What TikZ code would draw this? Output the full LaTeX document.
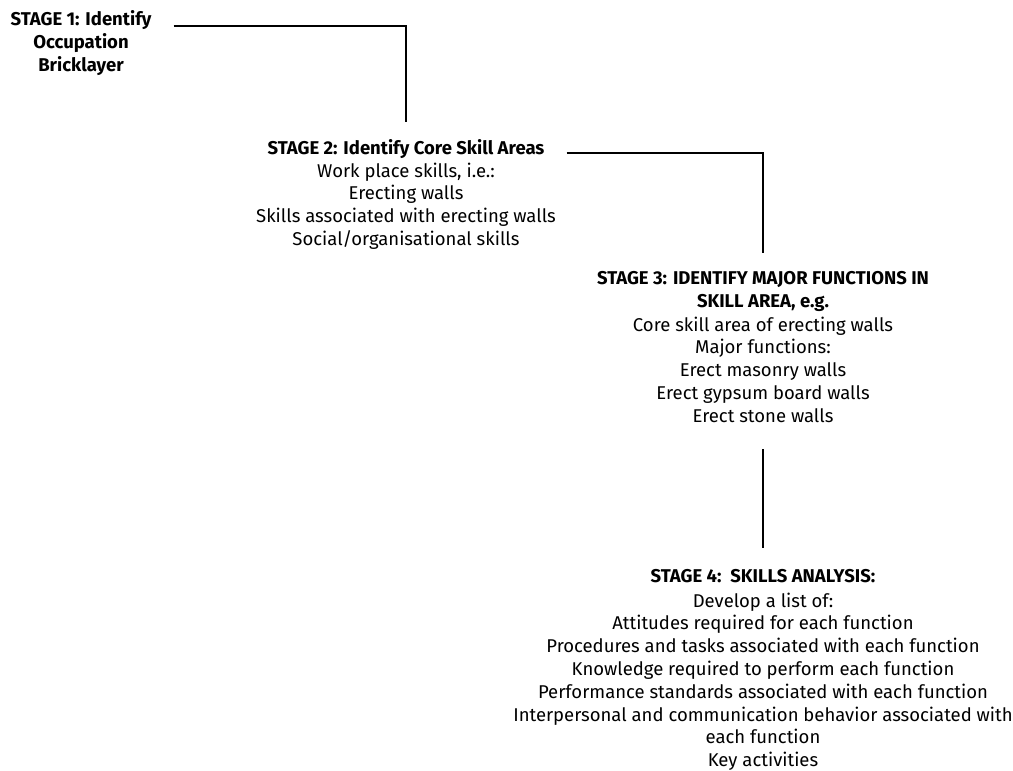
\documentclass[tikz,border=0pt]{standalone}
\usepackage{fontspec}
\setmainfont{Fira Sans}
\begin{document}
\begin{tikzpicture}[x=1pt,y=1pt,
  txt/.style={inner sep=0pt, align=center, anchor=north,
    font=\fontsize{18.5}{22.8}\selectfont},
  ttl/.style={txt, font=\fontsize{18.5}{22.8}\selectfont\bfseries},
  link/.style={line width=2.2pt}]
\useasboundingbox (0,0) rectangle (1013,-771);
% stage 1
\node[ttl] (s1t) at (81,-10.5) {STAGE 1: Identify};
\node[ttl] (s1b) at (81,-33.5) {Occupation\\Bricklayer};
% stage 2
\node[ttl] (s2t) at (406,-139.5) {STAGE 2: Identify Core Skill Areas};
\node[txt] (s2b) at (406,-162.5) {Work place skills, i.e.:\\Erecting walls\\Skills associated with erecting walls\\Social/organisational skills};
% stage 3
\node[ttl] (s3t) at (763,-271.5) {STAGE 3: IDENTIFY MAJOR FUNCTIONS IN\\SKILL AREA, e.g.};
\node[txt] (s3b) at (763,-316.5) {Core skill area of erecting walls\\Major functions:\\Erect masonry walls\\Erect gypsum board walls\\Erect stone walls};
% stage 4
\node[ttl] (s4t) at (763,-569.5) {STAGE 4:\ \ SKILLS ANALYSIS:};
\node[txt] (s4b) at (763,-592.5) {Develop a list of:\\Attitudes required for each function\\Procedures and tasks associated with each function\\Knowledge required to perform each function\\Performance standards associated with each function\\Interpersonal and communication behavior associated with\\each function\\Key activities};
% connectors
\draw[link] ([xshift=22pt,yshift=-15.5pt]s1t.north east) -| ([yshift=18pt]s2t.north);
\draw[link] ([xshift=22pt,yshift=-13.5pt]s2t.north east) -| ([yshift=18.5pt]s3t.north);
\draw[link] ([yshift=-26.5pt]s3b.south) -- ([yshift=21.5pt]s4t.north);
\end{tikzpicture}
\end{document}
